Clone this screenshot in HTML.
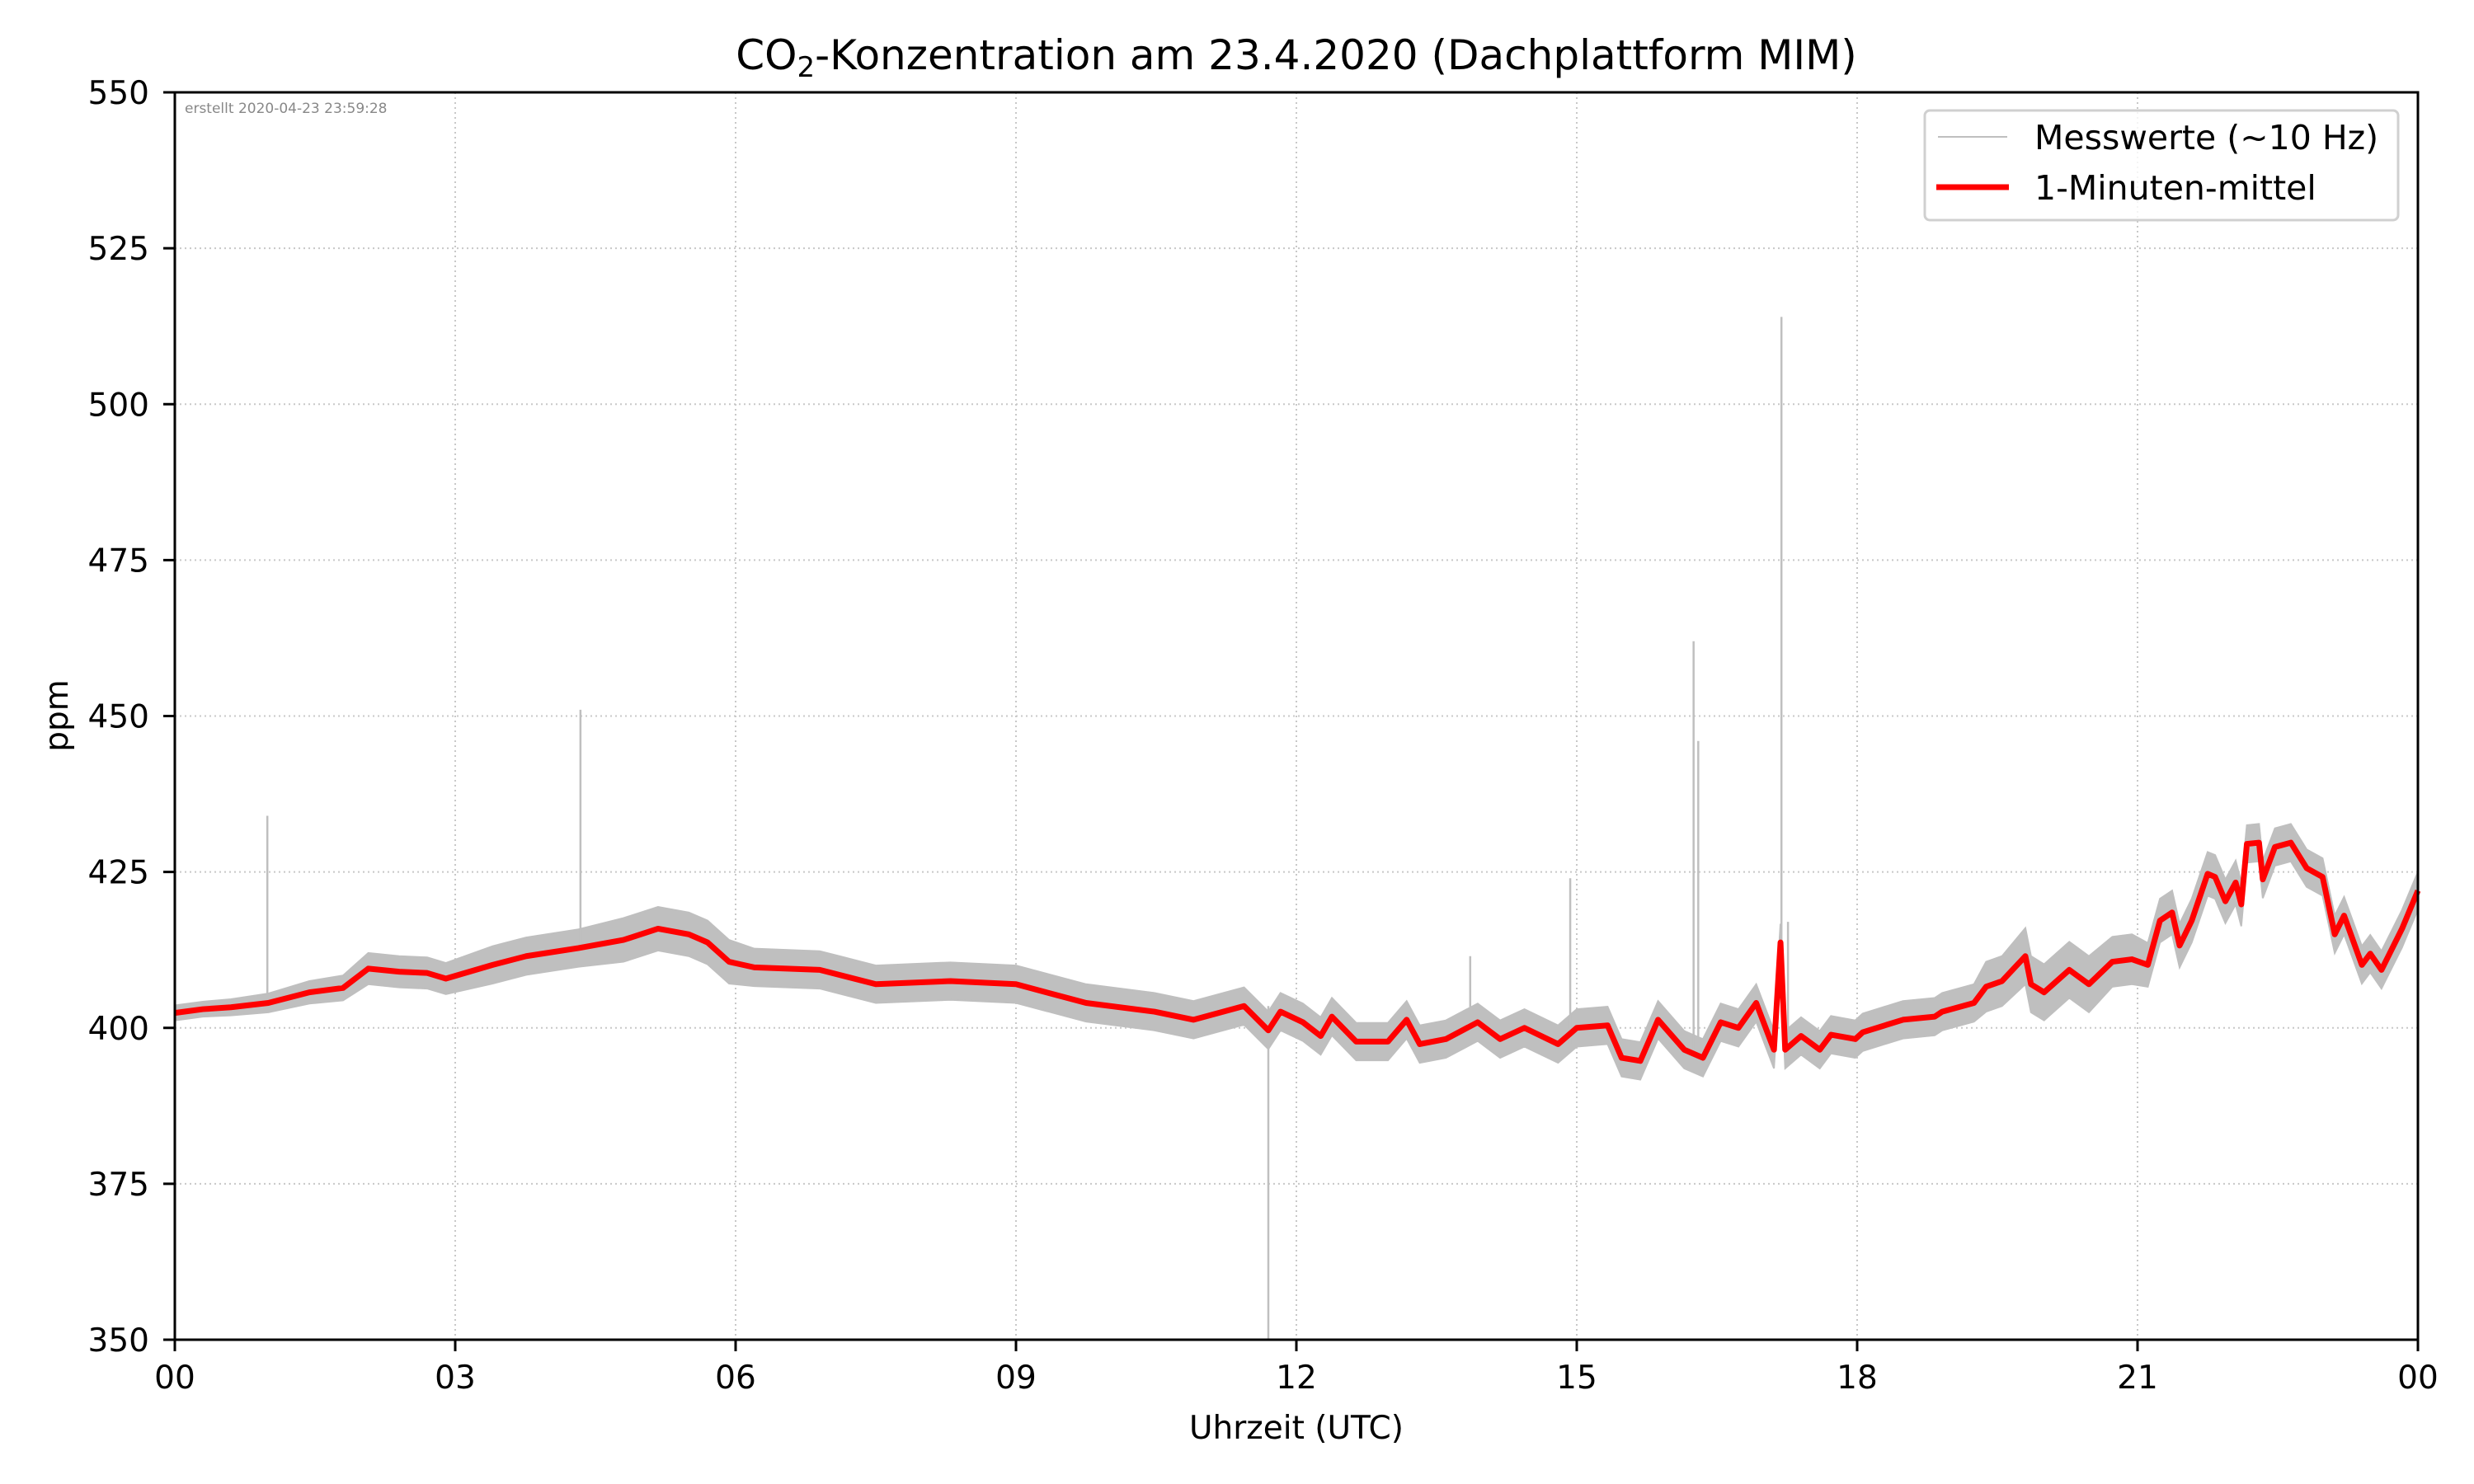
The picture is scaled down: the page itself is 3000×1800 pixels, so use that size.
<!DOCTYPE html>
<html><head><meta charset="utf-8"><style>
html,body{margin:0;padding:0;background:#fff;}
svg{display:block;font-family:"DejaVu Sans","Liberation Sans",sans-serif;}
</style></head><body>
<svg id="chart" width="3000" height="1800" viewBox="0 0 3000 1800">
<rect width="3000" height="1800" fill="#fff"/>
<g id="grid"></g>
<g id="series"></g>
<rect x="212" y="112" width="2720" height="1513" fill="none" stroke="#000" stroke-width="3"/>
<g id="axes"></g>
<text x="1572" y="84" font-size="50" text-anchor="middle">CO<tspan font-size="34" dy="9">2</tspan><tspan dy="-9">-Konzentration am 23.4.2020 (Dachplattform MIM)</tspan></text>
<text x="1572" y="1745" font-size="39" text-anchor="middle">Uhrzeit (UTC)</text>
<text x="0" y="0" font-size="39" text-anchor="middle" transform="translate(82,868) rotate(-90)">ppm</text>
<text x="224" y="137" font-size="17" fill="#888">erstellt 2020-04-23 23:59:28</text>
<g>
<rect x="2334" y="134" width="574" height="133" rx="6" fill="#fff" fill-opacity="0.8" stroke="#d0d0d0" stroke-width="3"/>
<line x1="2350" y1="166" x2="2434" y2="166" stroke="#bfbfbf" stroke-width="2"/>
<text x="2467" y="181" font-size="41">Messwerte (~10 Hz)</text>
<line x1="2348" y1="227" x2="2436" y2="227" stroke="#ff0000" stroke-width="7"/>
<text x="2467" y="242" font-size="41">1-Minuten-mittel</text>
</g>
</svg>
<script>
const hours = [0,0.3,0.6,1.0,1.44,1.8,2.07,2.4,2.7,2.9,3.4,3.76,4.32,4.8,5.17,5.5,5.7,5.93,6.2,6.9,7.5,8.3,9.0,9.75,10.48,10.9,11.44,11.7,11.83,12.07,12.26,12.38,12.64,12.98,13.18,13.32,13.6,13.94,14.18,14.44,14.8,15.0,15.33,15.48,15.68,15.87,16.15,16.35,16.54,16.73,16.92,17.11,17.18,17.23,17.4,17.6,17.72,17.98,18.06,18.49,18.83,18.91,19.25,19.38,19.55,19.8,19.86,20.0,20.27,20.48,20.73,20.94,21.11,21.24,21.37,21.45,21.58,21.75,21.83,21.94,22.05,22.11,22.17,22.3,22.34,22.47,22.64,22.81,22.98,23.11,23.21,23.4,23.49,23.61,23.83,24.0];
const meanPpm = [402.4,403,403.3,404,405.7,406.4,409.5,409,408.8,407.9,410.1,411.5,412.8,414.1,415.9,415,413.7,410.6,409.7,409.3,407,407.5,407,404,402.6,401.3,403.5,399.6,402.6,400.9,398.7,401.8,397.8,397.8,401.3,397.4,398.2,400.9,398.2,400,397.4,400,400.4,395.2,394.7,401.3,396.5,395.2,400.9,400,404,396.5,413.7,396.5,398.7,396.5,398.9,398.2,399.3,401.3,401.8,402.6,404,406.6,407.5,411.5,407,405.7,409.3,407,410.6,411,410.1,417.2,418.5,413.2,417.2,424.7,424.2,420.3,423.3,419.8,429.5,429.7,423.8,429,429.7,425.6,424.2,415,418,410.1,411.9,409.3,415.9,422];
const rawSpread = [1.2,1.2,1.3,1.5,1.8,2,2.5,2.5,2.5,2.5,3,3,3,3.5,3.5,3.5,3.5,3.5,3,3,3,3,3,3,3,3,3,3,3,3,3,3,3,3,3,3,3,3,3,3,3,3,3,3,3,3,3,3,3,3,3,3,3,3,3,3,3,3,3,3,3,3,3,4,4,4.5,4.5,4.5,4.5,4.5,4,4,3.5,3.5,3.5,3.5,3.5,3.5,3.5,3.5,3.5,3.5,3,3,3,3,3,3,3,3,3,3,3,3,3,3];
const spikeHours = [0.99,4.34,11.7,13.86,14.93,16.25,16.3,17.19,17.26];
const spikePpm = [434,451,350,411.5,424,462,446,514,417];
const xTickLabels = ["00","03","06","09","12","15","18","21","00"];
const xTickHours = [0,3,6,9,12,15,18,21,24];
const yTicks = [350,375,400,425,450,475,500,525,550];

const NS = "http://www.w3.org/2000/svg";
const X0 = 212, X1 = 2932, Y0 = 1625, Y1 = 112;
function xs(h){ return X0 + (h/24)*(X1-X0); }
function ys(v){ return Y0 - (v-350)/200*(Y0-Y1); }
function mk(tag, attrs, parent){ const e=document.createElementNS(NS,tag); for(const k in attrs) e.setAttribute(k,attrs[k]); parent.appendChild(e); return e; }

const grid=document.getElementById('grid'), axes=document.getElementById('axes'), series=document.getElementById('series');
xTickHours.forEach((h,i)=>{
  const x=xs(h);
  if(i>0 && i<xTickHours.length-1){
    const g=mk('line',{x1:x,y1:Y1,x2:x,y2:Y0,stroke:'#c8c8c8','stroke-width':2,'stroke-dasharray':'2,4'},grid);
    
    
  }
  const t=mk('line',{x1:x,y1:Y0,x2:x,y2:Y0+14,stroke:'#000','stroke-width':3},axes);
  
  
  const l=mk('text',{x:x,y:1684,'font-size':39,'text-anchor':'middle'},axes);
  l.textContent=xTickLabels[i];
  
  
});
yTicks.forEach((v,i)=>{
  const y=ys(v);
  if(i>0 && i<yTicks.length-1){
    const g=mk('line',{x1:X0,y1:y,x2:X1,y2:y,stroke:'#c8c8c8','stroke-width':2,'stroke-dasharray':'2,4'},grid);
    
    
  }
  const t=mk('line',{x1:X0-14,y1:y,x2:X0,y2:y,stroke:'#000','stroke-width':3},axes);
  
  
  const l=mk('text',{x:181,y:y+14,'font-size':39,'text-anchor':'end'},axes);
  l.textContent=String(v);
  
  
});

let up=[], dn=[];
hours.forEach((h,i)=>{ up.push(xs(h)+','+ys(meanPpm[i]+rawSpread[i])); dn.push(xs(h)+','+ys(meanPpm[i]-rawSpread[i])); });
const band=mk('polygon',{points:up.concat(dn.reverse()).join(' '),fill:'#bfbfbf',stroke:'#bfbfbf','stroke-width':2},series);


spikeHours.forEach((h,i)=>{
  let j=0; while(j<hours.length-1 && hours[j+1]<h) j++;
  const base=meanPpm[j];
  const s=mk('line',{x1:xs(h),y1:ys(base),x2:xs(h),y2:ys(spikePpm[i]),stroke:'#bfbfbf','stroke-width':2.5},series);
  
  
});
const pts=hours.map((h,i)=>xs(h)+','+ys(meanPpm[i])).join(' ');
const ml=mk('polyline',{points:pts,fill:'none',stroke:'#ff0000','stroke-width':7,'stroke-linejoin':'round'},series);


</script>
</body></html>
